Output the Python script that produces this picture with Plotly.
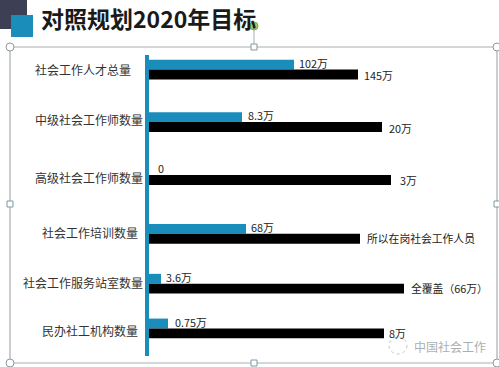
import plotly.graph_objects as go

categories = ["社会工作人才总量", "中级社会工作师数量", "高级社会工作师数量",
              "社会工作培训数量", "社会工作服务站室数量", "民办社工机构数量"]
row_pos = [0, 1.01, 2.03, 3.16, 4.12, 4.98]
current_len = [145, 93, 0, 97, 12, 19]
target_len = [209, 233, 242, 211, 255, 235]
current_labels = ["102万", "8.3万", "0", "68万", "3.6万", "0.75万"]
target_labels = ["145万", "20万", "3万", "所以在岗社会工作人员", "全覆盖（66万）", "8万"]
title_text = "对照规划2020年目标"
watermark = "中国社会工作"

W, H = 499, 367
BLUE = "#1a8dba"
FONT = "Noto Sans CJK SC"
L, T, B = 149, 55, 356
GREY = "#a9adb0"

def px(x): return x / W
def py(y): return 1 - y / H

fig = go.Figure()
fig.add_bar(y=row_pos, x=current_len, orientation="h", width=0.19, offset=-0.19,
            marker_color=BLUE, marker_line_width=0, hoverinfo="skip")
fig.add_bar(y=row_pos, x=target_len, orientation="h", width=0.19, offset=0,
            marker_color="#000000", marker_line_width=0, hoverinfo="skip")

ann = []
for i, c in enumerate(categories):
    ann.append(dict(x=px(L), xref="paper", y=row_pos[i] + [0, -.04, .05, -.02, -.02, .04][i], yref="y",
                    text=c, showarrow=False, xanchor="right", xshift=[-16, -4, -4, -9, -4, -9][i],
                    font=dict(size=12, color="#333333", family=FONT)))
    ann.append(dict(x=current_len[i], y=row_pos[i] - 0.13, text=current_labels[i], showarrow=False,
                    xanchor="left", xshift=[3, 4, 7, 3, 3, 5][i],
                    font=dict(size=10.8, color="#222222", family=FONT)))
    ann.append(dict(x=target_len[i], y=row_pos[i] + [.11, .11, .10, .09, .08, .09][i], text=target_labels[i],
                    showarrow=False, xanchor="left", xshift=[4, 5, 7, 5, 5, 3][i],
                    font=dict(size=10.8, color="#222222", family=FONT)))

ann.append(dict(x=px(39), xref="paper", y=py(18), yref="paper", yanchor="middle",
                text="<b>" + title_text + "</b>", showarrow=False, xanchor="left",
                font=dict(size=23, color="#1a1a1a", family=FONT)))
ann.append(dict(x=px(412), xref="paper", y=py(346), yref="paper", yanchor="middle", text=watermark,
                showarrow=False, xanchor="left", font=dict(size=12, color="#aab0b0", family=FONT)))

shapes = [
    dict(type="rect", xref="paper", yref="paper", x0=px(0), x1=px(27), y0=py(0), y1=py(29),
         fillcolor="#3d3f55", line_width=0),
    dict(type="rect", xref="paper", yref="paper", x0=px(11), x1=px(33), y0=py(15), y1=py(37),
         fillcolor=BLUE, line_width=0),
    dict(type="rect", xref="paper", yref="paper", x0=px(10), x1=px(497), y0=py(47), y1=py(363),
         fillcolor="rgba(0,0,0,0)", line=dict(color=GREY, width=1.2)),
    dict(type="line", xref="paper", yref="paper", x0=px(254), x1=px(254), y0=py(26), y1=py(47),
         line=dict(color=GREY, width=1)),
    dict(type="circle", xref="paper", yref="paper", x0=px(389), x1=px(407), y0=py(337), y1=py(354),
         fillcolor="rgba(0,0,0,0)", line=dict(color="#c4c8c8", width=1, dash="dot")),
]
def circle(cx, cy, r=4, fill="#ffffff", lc="#8a9aa0"):
    return dict(type="circle", xref="paper", yref="paper", x0=px(cx - r), x1=px(cx + r),
                y0=py(cy - r), y1=py(cy + r), fillcolor=fill, line=dict(color=lc, width=1))
def square(cx, cy, r=3):
    return dict(type="rect", xref="paper", yref="paper", x0=px(cx - r), x1=px(cx + r),
                y0=py(cy - r), y1=py(cy + r), fillcolor="#ffffff", line=dict(color="#7f9aa5", width=1))
for cx, cy in [(10, 47), (497, 47), (10, 363), (497, 363)]:
    shapes.append(circle(cx, cy))
for cx, cy in [(254, 47), (254, 363), (10, 204), (497, 204)]:
    shapes.append(square(cx, cy))
shapes.append(circle(254, 26, 4, "#9ccb6a", "#7fa858"))

fig.update_layout(
    width=W, height=H, barmode="overlay", showlegend=False,
    margin=dict(l=0, r=0, t=0, b=0), paper_bgcolor="#ffffff", plot_bgcolor="rgba(0,0,0,0)",
    xaxis=dict(domain=[px(L), 1], range=[0, 350], visible=False, fixedrange=True),
    yaxis=dict(domain=[py(B), py(T)], range=[5.51, -0.279], showgrid=False, zeroline=False,
               showticklabels=False, ticks="", showline=True, linecolor=BLUE, linewidth=4,
               fixedrange=True),
    annotations=ann, shapes=shapes,
)
fig.write_html("out.html", config={"displayModeBar": False},
               post_script="document.body.style.margin='0';document.documentElement.style.overflow='hidden';")
